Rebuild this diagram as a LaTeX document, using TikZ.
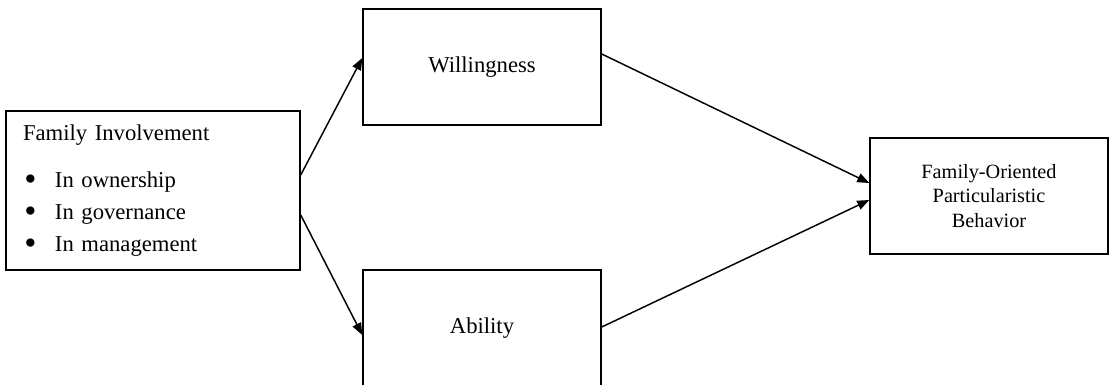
\documentclass[tikz,border=0pt]{standalone}
\usepackage{fontspec}
\setmainfont{Liberation Serif}
\usetikzlibrary{arrows.meta}

\newcommand{\fambullet}{\hspace*{1pt}\makebox[23pt][l]{\raisebox{-2.5pt}{\fontsize{26}{24}\selectfont\textbullet}}}

\begin{document}
\begin{tikzpicture}[x=0.75pt, y=-0.75pt]
\def\u{0.75pt}
\tikzset{
  box/.style={rectangle, draw, line width=1.1pt,
              minimum width=238*\u,
              minimum height=116*\u,
              font=\fontsize{17}{20.4}\selectfont},
  arr/.style={line width=1.1pt, -{Triangle[length=9pt, width=7pt]}}
}
\useasboundingbox (0,0) rectangle (1111,385);

\node[rectangle, draw, line width=1.1pt,
      minimum width=294*\u,
      minimum height=159*\u,
      inner xsep=17*\u,
      text width=260*\u,
      align=left,
      font=\fontsize{17}{24}\selectfont] (fam) at (153,190.5)
  {Family Involvement\\[11pt]
   \fambullet In ownership\\
   \fambullet In governance\\
   \fambullet In management};

\node[box] (will) at (482,67) {Willingness};

\node[box] (abil) at (482,328) {Ability};

\node[box, align=center,
      font=\fontsize{15.2}{18.4}\selectfont] (fopb) at (989,196)
  {Family-Oriented\\Particularistic\\Behavior};

\draw[arr] ([yshift=15.5*\u]fam.east) -- ([yshift=9*\u]will.west);
\draw[arr] ([yshift=-24.5*\u]fam.east) -- ([yshift=-7*\u]abil.west);
\draw[arr] ([yshift=13*\u]will.east) -- ([yshift=13*\u]fopb.west);
\draw[arr] ([yshift=1*\u]abil.east) -- ([yshift=-4*\u]fopb.west);
\end{tikzpicture}
\end{document}
